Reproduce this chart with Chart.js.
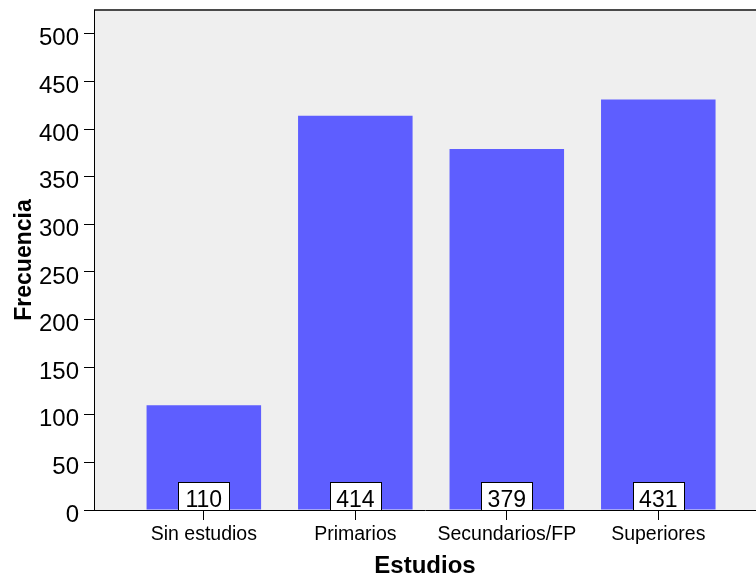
<!DOCTYPE html>
<html>
<head>
<meta charset="utf-8">
<script src="https://cdn.jsdelivr.net/npm/chart.js@4"></script>
<style>
  html, body { margin: 0; padding: 0; background: #fff; overflow: hidden; }
  #wrap { width: 756px; height: 578px; }
</style>
</head>
<body>
<div id="wrap"><canvas id="chart" width="756" height="578"></canvas></div>
<script>
  // ------- Data -------
  const categorias = ['Sin estudios', 'Primarios', 'Secundarios/FP', 'Superiores'];
  const frecuencias = [110, 414, 379, 431];
  const yTicks = [0, 50, 100, 150, 200, 250, 300, 350, 400, 450, 500];

  const FONT = "'Liberation Sans', Arial, sans-serif";

  // fondo gris del área de datos + borde superior
  const plotBackground = {
    id: 'plotBackground',
    beforeDraw(chart) {
      const { ctx, chartArea: a } = chart;
      ctx.save();
      ctx.fillStyle = '#efefef';
      ctx.fillRect(a.left, a.top, a.right - a.left, a.bottom - a.top);
      ctx.strokeStyle = '#4a4a4a';
      ctx.lineWidth = 2;
      ctx.beginPath();
      ctx.moveTo(a.left, a.top);
      ctx.lineTo(a.right, a.top);
      ctx.stroke();
      ctx.restore();
    }
  };

  // etiquetas de valor en cajas blancas al pie de cada barra
  const valueBoxes = {
    id: 'valueBoxes',
    afterDatasetsDraw(chart) {
      const { ctx } = chart;
      const y0 = chart.scales.y.getPixelForValue(0);
      const meta = chart.getDatasetMeta(0);
      ctx.save();
      ctx.font = '23px ' + FONT;
      ctx.textAlign = 'center';
      ctx.textBaseline = 'alphabetic';
      meta.data.forEach((bar, i) => {
        const w = 51, h = 28;
        const x = Math.round(bar.x - w / 2) + 0.5;
        const y = Math.round(y0 - h) + 0.5;
        ctx.fillStyle = '#fff';
        ctx.fillRect(x, y, w, h);
        ctx.strokeStyle = '#000';
        ctx.lineWidth = 1;
        ctx.strokeRect(x, y, w, h);
        ctx.fillStyle = '#000';
        ctx.fillText(String(frecuencias[i]), bar.x, y0 - 3);
      });
      ctx.restore();
    }
  };

  new Chart(document.getElementById('chart'), {
    type: 'bar',
    data: {
      datasets: [{
        label: 'Frecuencia',
        data: categorias.map((c, i) => ({ x: i, y: frecuencias[i] })),
        backgroundColor: '#5e5eff',
        borderWidth: 0,
        barPercentage: 0.756,
        categoryPercentage: 1
      }]
    },
    options: {
      responsive: false,
      animation: false,
      layout: { padding: { top: 10, right: 0, left: 0, bottom: 0 } },
      plugins: { legend: { display: false }, tooltip: { enabled: false } },
      scales: {
        x: {
          type: 'linear',
          offset: false,
          min: -0.725,
          max: 3.645,
          afterBuildTicks: s => { s.ticks = categorias.map((c, i) => ({ value: i })); },
          afterFit: s => { s.height = 68; s.paddingLeft = 0; s.paddingRight = 0; },
          grid: { offset: false, drawOnChartArea: false, drawTicks: true, tickLength: 10, color: '#000' },
          border: { display: true, color: '#000', width: 1 },
          ticks: {
            autoSkip: false,
            maxRotation: 0,
            padding: 3,
            color: '#000',
            font: { family: FONT, size: 19.5 },
            callback: v => categorias[v]
          },
          title: {
            display: true,
            text: 'Estudios',
            color: '#000',
            font: { family: FONT, size: 24, weight: 'bold', lineHeight: 1 },
            padding: { top: 0, bottom: 0 }
          }
        },
        y: {
          min: 0,
          max: 525,
          afterBuildTicks: s => { s.ticks = yTicks.map(v => ({ value: v })); },
          afterFit: s => { s.width = 94; s.paddingTop = 0; s.paddingBottom = 0; },
          grid: { drawOnChartArea: false, drawTicks: true, tickLength: 10, color: '#000' },
          border: { display: true, color: '#000', width: 1 },
          ticks: {
            padding: 5,
            labelOffset: 5,
            color: '#000',
            font: { family: FONT, size: 24 }
          },
          title: {
            display: true,
            text: 'Frecuencia',
            color: '#000',
            font: { family: FONT, size: 23, weight: 'bold', lineHeight: 1.2 },
            padding: { top: 11, bottom: 0 }
          }
        }
      }
    },
    plugins: [plotBackground, valueBoxes]
  });
</script>
</body>
</html>
